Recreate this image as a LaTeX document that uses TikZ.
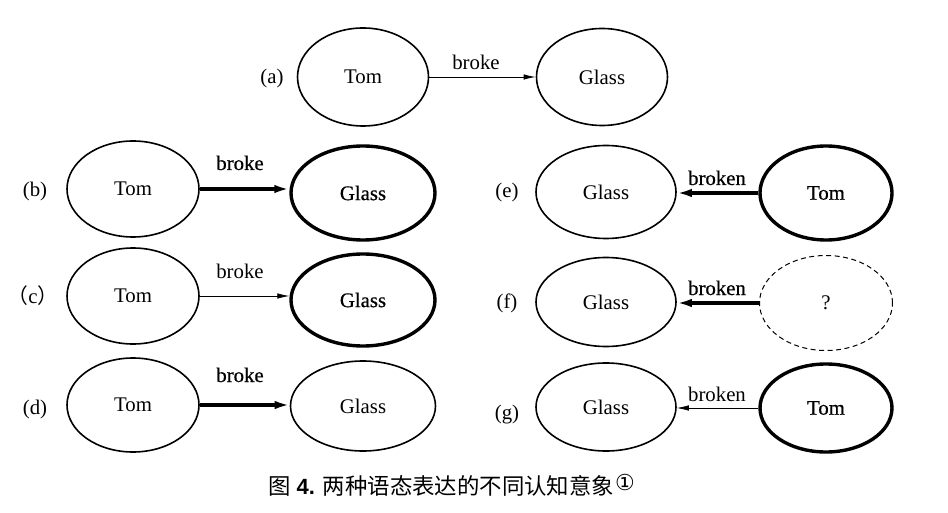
\documentclass[tikz,border=0pt]{standalone}
\usepackage{fontspec}
\setmainfont{Liberation Serif}
\newfontfamily\cjk{Noto Sans CJK SC}
\newfontface\semib[FakeBold=0.5]{Liberation Serif}
\newfontfamily\capsans{Liberation Sans}
\newfontfamily\circfont{DejaVu Sans}
\usetikzlibrary{shapes.geometric,arrows.meta}
\begin{document}
\begin{tikzpicture}[x=1pt,y=-1pt,
 every node/.style={font=\fontsize{20.8}{24}\selectfont},
 ell/.style={ellipse,draw,line width=1.6pt,inner sep=0pt},
 ellthick/.style={ellipse,draw,line width=3.4pt,inner sep=0pt},
 elldash/.style={ellipse,draw,line width=1pt,dash pattern=on 5pt off 3.5pt,inner sep=0pt},
 thinarrow/.style={line width=0.9pt,-{Latex[length=12pt,width=5.5pt]}},
 hairarrow/.style={line width=0.7pt,-{Latex[length=12pt,width=5.5pt]}},
 thickarrow/.style={line width=3.2pt,-{Latex[length=15pt,width=8.5pt]}},
 lbl/.style={anchor=base,inner sep=0pt},
]
\useasboundingbox (0,0) rectangle (948,513);

% (a)
\node[ell,minimum width=131pt,minimum height=98pt] (tomA) at (363,77) {Tom};
\node[ell,minimum width=131pt,minimum height=97pt] (glassA) at (602,77) {Glass};
\node[lbl] (la) at (272,84) {(a)};
\node[lbl] (brA) at (476,70) {broke};
\draw[thinarrow] (tomA.east) -- (glassA.west);

% (b)
\node[ell,minimum width=132pt,minimum height=96pt] (tomB) at (133,189) {Tom};
\node[ellthick,minimum width=144pt,minimum height=94pt] (glassB) at (363,193) {\semib Glass};
\node[lbl] (lb) at (35,197) {(b)};
\node[lbl] (brB) at (240,170) {\semib broke};
\draw[thickarrow] (tomB.east) -- (tomB.east -| glassB.west);

% (c)
\node[lbl] (lc) at (33,303) {{\cjk （}c{\cjk ）}};
\node[ell,minimum width=132pt,minimum height=96pt] (tomC) at (133,296) {Tom};
\node[ellthick,minimum width=144pt,minimum height=92pt] (glassC) at (363,300) {\semib Glass};
\node[lbl] (brC) at (240,278) {broke};
\draw[hairarrow] (tomC.east) -- (tomC.east -| glassC.west);

% (d)
\node[ell,minimum width=132pt,minimum height=94pt] (tomD) at (133,405) {Tom};
\node[ell,minimum width=145pt,minimum height=90pt] (glassD) at (363,406) {Glass};
\node[lbl] (ld) at (35,414) {(d)};
\node[lbl] (brD) at (240,382) {\semib broke};
\draw[thickarrow] (tomD.east) -- (tomD.east -| glassD.west);

% (e)
\node[ell,minimum width=140pt,minimum height=93pt] (glassE) at (606,192) {Glass};
\node[ellthick,minimum width=132pt,minimum height=94pt] (tomE) at (826,193) {\semib Tom};
\node[lbl] (le) at (507,198) {(e)};
\node[lbl] (brE) at (717,185) {\semib broken};
\draw[thickarrow] (tomE.west) -- (tomE.west -| glassE.east);

% (f)
\node[ell,minimum width=140pt,minimum height=89pt] (glassF) at (606,302) {Glass};
\node[elldash,minimum width=133pt,minimum height=95pt] (qF) at (826,303) {?};
\node[lbl] (lf) at (507,308) {(f)};
\node[lbl] (brF) at (717,295) {\semib broken};
\draw[thickarrow] (qF.west) -- (qF.west -| glassF.east);

% (g)
\node[ell,minimum width=140pt,minimum height=88pt] (glassG) at (606,407) {Glass};
\node[ellthick,minimum width=132pt,minimum height=88pt] (tomG) at (826,408) {\semib Tom};
\node[lbl] (lg) at (507,419) {(g)};
\node[lbl] (brG) at (717,401) {broken};
\draw[hairarrow] (tomG.west) -- (tomG.west -| glassG.east);

% caption
\node[anchor=base west,inner sep=0pt,font=\fontsize{22.4}{26}\cjk] (cap) at (268,494)
 {图\hspace{6pt}{\capsans\bfseries\fontsize{22}{26}\selectfont 4.}\hspace{8pt}两种语态表达的不同认知意象\hspace{1pt}\raisebox{4pt}{\circfont\fontsize{22}{24}\selectfont ①}};
\end{tikzpicture}
\end{document}
